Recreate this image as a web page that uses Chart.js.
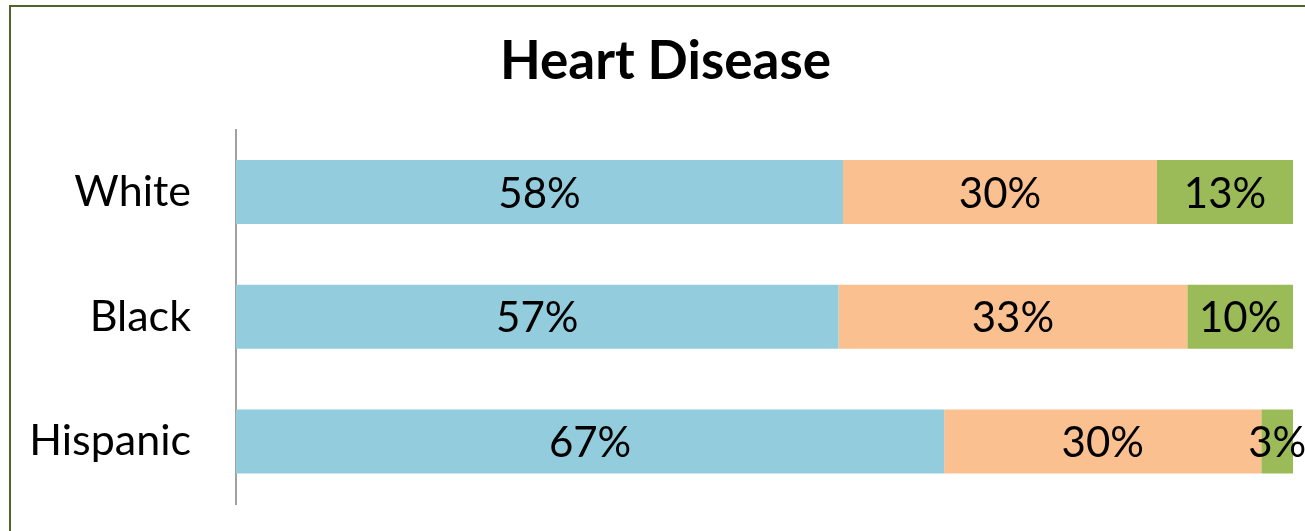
<!DOCTYPE html>
<html>
<head>
<meta charset="utf-8">
<script src="https://cdn.jsdelivr.net/npm/chart.js@4/dist/chart.umd.min.js"></script>
<style>
    html, body { margin: 0; padding: 0; background: #fff; overflow: hidden; }
    #frame {
        position: absolute; left: 9px; top: 5px;
        width: 1400px; height: 600px;
        border: 2.5px solid #4F6228;
    }
    /* the chart is a bit wider than the window, its right edge is cropped */
    #wrap { position: absolute; left: 0; top: 0; width: 1331px; height: 531px; }
</style>
</head>
<body>
<div id="frame"></div>
<div id="wrap"><canvas id="heartChart" width="1331" height="531"></canvas></div>
<script>
const categories = ['White', 'Black', 'Hispanic'];
const seriesA = [58, 57, 67];
const seriesB = [30, 33, 30];
const seriesC = [13, 10, 3];
const colors = ['#93CDDD', '#FAC090', '#9BBB59'];

const FONT = 'Lato, "Noto Sans", sans-serif';

// 100% stacked: each bar scaled to its own total
const totals = categories.map((_, i) => seriesA[i] + seriesB[i] + seriesC[i]);
const share = (arr) => arr.map((v, i) => v / totals[i] * 100);

const rawSeries = [seriesA, seriesB, seriesC];

const barLabels = {
    id: 'barLabels',
    afterDatasetsDraw(chart) {
        const ctx = chart.ctx;
        ctx.save();
        ctx.font = '42px ' + FONT;
        ctx.fillStyle = '#000';
        ctx.textAlign = 'center';
        ctx.textBaseline = 'middle';
        chart.data.datasets.forEach((ds, di) => {
            const meta = chart.getDatasetMeta(di);
            meta.data.forEach((bar, i) => {
                const cx = (bar.x + bar.base) / 2;
                ctx.fillText(rawSeries[di][i] + '%', cx, bar.y + 2);
            });
        });
        ctx.restore();
    }
};

const ctx = document.getElementById('heartChart').getContext('2d');
new Chart(ctx, {
    type: 'bar',
    data: {
        labels: categories,
        datasets: rawSeries.map((s, i) => ({
            data: share(s),
            backgroundColor: colors[i],
            borderWidth: 0,
            barPercentage: 0.513,
            categoryPercentage: 1
        }))
    },
    options: {
        indexAxis: 'y',
        responsive: false,
        animation: false,
        layout: { padding: { left: 0, right: 0, top: 0, bottom: 27 } },
        plugins: {
            legend: { display: false },
            tooltip: { enabled: false },
            title: {
                display: true,
                text: 'Heart Disease',
                color: '#000',
                font: { family: FONT, size: 53, weight: 'bold' },
                padding: { top: 30, bottom: 36 }
            }
        },
        scales: {
            x: {
                stacked: true,
                min: 0,
                max: 100,
                display: false
            },
            y: {
                stacked: true,
                grid: { display: false, drawTicks: false },
                border: { display: true, color: '#A0A0A0', width: 2 },
                ticks: {
                    color: '#000',
                    font: { family: FONT, size: 43 },
                    padding: 45
                },
                afterFit(scale) {
                    scale.width = 236;
                    scale.paddingTop = 0;
                    scale.paddingBottom = 0;
                }
            },
            // empty right margin, keeps the title centred on the whole frame
            yRight: {
                type: 'category',
                position: 'right',
                grid: { display: false, drawTicks: false },
                border: { display: false },
                ticks: { display: false },
                afterFit(scale) {
                    scale.width = 38;
                    scale.paddingTop = 0;
                    scale.paddingBottom = 0;
                }
            }
        }
    },
    plugins: [barLabels]
});
</script>
</body>
</html>
